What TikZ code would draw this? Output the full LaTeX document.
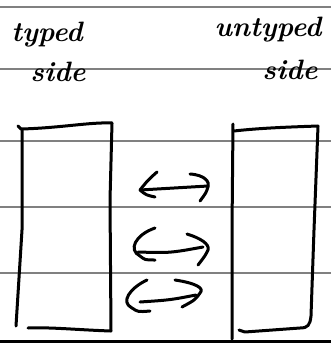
\documentclass[tikz,border=0pt]{standalone}
\begin{document}
\begin{tikzpicture}[x=1pt,y=-1pt,
  ruling/.style={draw=black!50,line width=1.6pt},
  ink/.style={draw=black,line width=3pt,line cap=round,line join=round},
  hand/.style={font=\fontsize{28}{30}\selectfont\bfseries\itshape,inner sep=0pt}]
\useasboundingbox (0,0) rectangle (331,343);
\fill[white] (0,0) rectangle (331,343);
% ruled paper lines
\foreach \yy in {7,69,141,207,273}{\draw[ruling] (0,\yy) -- (331,\yy);}
\draw[draw=black,line width=2.5pt] (0,341.5) -- (331,341.5);
% labels
\node[hand] (typed) at (47,35) {typed};
\node[hand] (tside) at (58,72) {side};
\node[hand] (untyped) at (268,30) {untyped};
\node[hand] (uside) at (290,70) {side};
% left box
\draw[ink] (18,126) -- (21,129) .. controls (60,128) and (90,122) .. (112,123);
\draw[ink] (112,123) -- (110,200) -- (111,331);
\draw[ink] (111,331) .. controls (80,330) and (50,327) .. (28,328);
\draw[ink] (22,130) -- (22,230) -- (16,326);
% right box
\draw[ink] (233,124) -- (232,230) -- (232,339);
\draw[ink] (234,131) .. controls (260,128) and (290,127) .. (318,126);
\draw[ink] (318,126) -- (314,230) -- (311,316) .. controls (310,325) and (308,328) .. (300,328) -- (245,332) -- (239,330);
% arrows
\draw[ink] (140,190) -- (208,186);
\draw[ink] (157,172) .. controls (148,180) .. (140,190) .. controls (146,195) .. (155,197);
\draw[ink] (190,174) .. controls (205,175) and (210,182) .. (208,187) .. controls (206,193) .. (200,201);
\draw[ink] (138,252) .. controls (170,253) .. (203,247);
\draw[ink] (155,228) .. controls (135,235) and (128,250) .. (140,256) .. controls (145,260) .. (155,260);
\draw[ink] (187,234) .. controls (200,238) and (210,244) .. (208,250) .. controls (205,256) .. (198,265);
\draw[ink] (140,302) .. controls (170,300) .. (196,295);
\draw[ink] (147,280) .. controls (130,288) and (120,302) .. (132,308) .. controls (138,312) .. (150,311);
\draw[ink] (175,280) .. controls (195,283) and (205,288) .. (200,293) .. controls (195,300) .. (182,307);
\end{tikzpicture}
\end{document}
